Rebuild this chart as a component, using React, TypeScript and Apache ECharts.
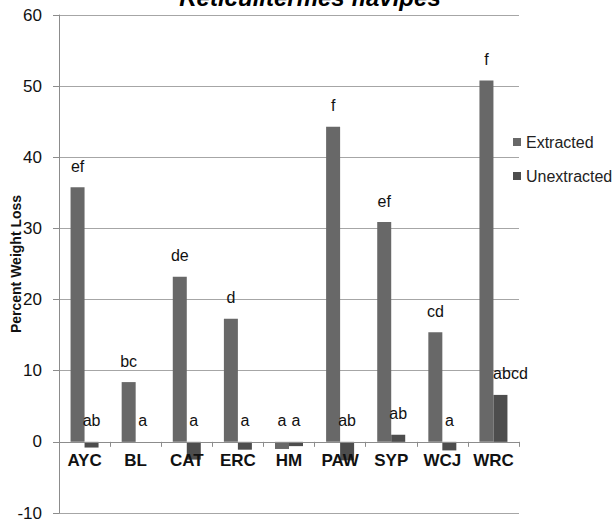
import React, { useEffect, useRef } from "react";
import * as echarts from "echarts";

// Wood sources tested
const categories = ["AYC", "BL", "CAT", "ERC", "HM", "PAW", "SYP", "WCJ", "WRC"];

// Mean percent weight loss per wood source
const extractedValues = [35.8, 8.4, 23.2, 17.3, -1.0, 44.3, 30.9, 15.4, 50.8];
const unextractedValues = [-0.8, 0, -2.5, -1.1, -0.6, -2.6, 1.0, -1.2, 6.6];

// Mean separation letters shown above each bar
const extractedLetters = ["ef", "bc", "de", "d", "a", "f", "ef", "cd", "f"];
const unextractedLetters = ["ab", "a", "a", "a", "a", "ab", "ab", "a", "abcd"];

// Value axis ticks
const yMin = -10;
const yMax = 60;
const yStep = 10;

const FONT = "'Liberation Sans', Arial, sans-serif";

export default function App() {
  const ref = useRef<HTMLDivElement>(null);

  useEffect(() => {
    if (!ref.current) return;
    const chart = echarts.init(ref.current, undefined, { renderer: "svg" });

    const letterLabel = (letters: string[]) => ({
      show: true,
      position: "top" as const,
      distance: 13,
      fontFamily: FONT,
      fontSize: 16,
      color: "#111",
      formatter: (p: any) => letters[p.dataIndex],
    });

    // the long "abcd" tag over the last unextracted bar leans to the right
    const unextractedData = unextractedValues.map((v, i) =>
      unextractedLetters[i].length > 3 ? { value: v, label: { offset: [10, 0] } } : v
    );

    chart.setOption({
      animation: false,
      backgroundColor: "#ffffff",
      textStyle: { fontFamily: FONT },
      graphic: [
        {
          type: "text",
          x: 310,
          y: -3,
          z: 10,
          style: {
            text: "Reticulitermes flavipes",
            fontFamily: FONT,
            fontSize: 24,
            fontWeight: "bold",
            fontStyle: "italic",
            fill: "#000",
            align: "center",
            verticalAlign: "middle",
          },
        },
      ],
      legend: {
        orient: "vertical",
        left: 508,
        top: 129,
        itemWidth: 8,
        itemHeight: 8,
        itemGap: 18,
        icon: "rect",
        textStyle: { fontFamily: FONT, fontSize: 16, color: "#222" },
        data: ["Extracted", "Unextracted"],
      },
      grid: {
        left: 59,
        right: 97,
        top: 15,
        bottom: 10,
        containLabel: false,
        outerBoundsMode: "none",
      },
      xAxis: {
        type: "category",
        data: categories,
        z: 5,
        axisLine: { onZero: true, lineStyle: { color: "#8c8c8c", width: 1 } },
        axisTick: { show: true, length: 5, lineStyle: { color: "#8c8c8c" } },
        axisLabel: {
          interval: 0,
          // category names sit just under the zero line, well above the grid's bottom edge
          margin: -61,
          fontFamily: FONT,
          fontSize: 17,
          fontWeight: "bold",
          color: "#111",
        },
        splitLine: { show: false },
      },
      yAxis: {
        type: "value",
        min: yMin,
        max: yMax,
        interval: yStep,
        name: "Percent Weight Loss",
        nameLocation: "middle",
        nameGap: 36,
        nameMoveOverlap: false,
        nameTextStyle: {
          fontFamily: FONT,
          fontSize: 14,
          fontWeight: "bold",
          color: "#111",
        },
        axisLine: { show: true, lineStyle: { color: "#8c8c8c", width: 1 } },
        axisTick: { show: true, length: 6, lineStyle: { color: "#8c8c8c" } },
        axisLabel: {
          margin: 17,
          fontFamily: FONT,
          fontSize: 17,
          color: "#111",
        },
        splitLine: { show: true, lineStyle: { color: "#a6a6a6", width: 1 } },
      },
      series: [
        {
          name: "Extracted",
          type: "bar",
          data: extractedValues,
          barWidth: 14,
          barGap: "0%",
          itemStyle: { color: "#686868" },
          label: letterLabel(extractedLetters),
        },
        {
          name: "Unextracted",
          type: "bar",
          data: unextractedData,
          barWidth: 14,
          barGap: "0%",
          itemStyle: { color: "#4d4d4d" },
          label: letterLabel(unextractedLetters),
        },
      ],
    });

    return () => chart.dispose();
  }, []);

  return (
    <div
      ref={ref}
      style={{ position: "absolute", left: 0, top: 0, width: 616, height: 523 }}
    />
  );
}
